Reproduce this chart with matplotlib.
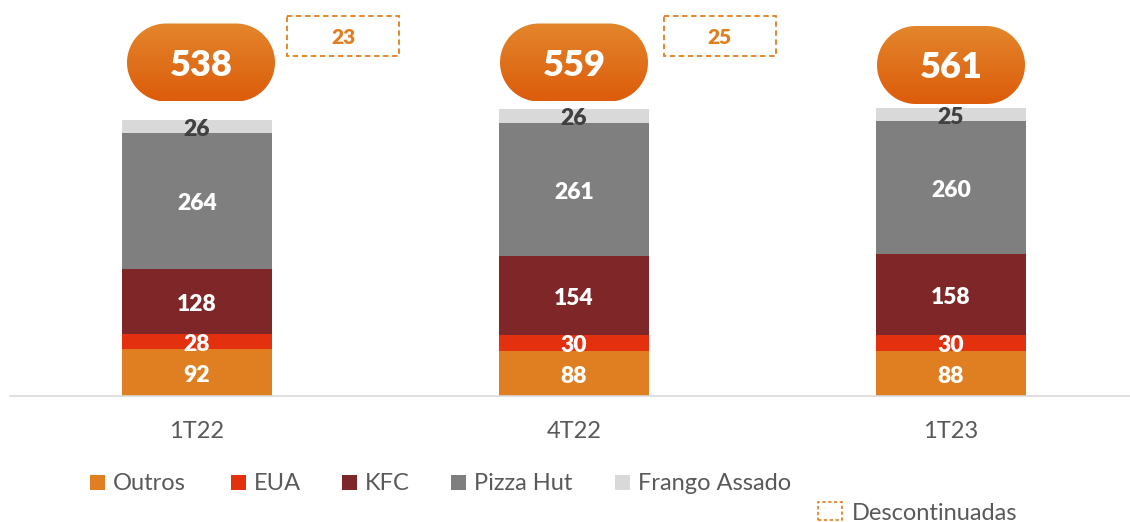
import numpy as np
import matplotlib
matplotlib.use("Agg")
import matplotlib.pyplot as plt
from matplotlib.patches import Polygon, Rectangle, Patch

plt.rcParams['font.family'] = ['Lato', 'DejaVu Sans']

categories = ["1T22", "4T22", "1T23"]
series_names = ["Outros", "EUA", "KFC", "Pizza Hut", "Frango Assado"]
outros = [92, 88, 88]
eua = [28, 30, 30]
kfc = [128, 154, 158]
pizza_hut = [264, 261, 260]
frango_assado = [26, 26, 25]
totals = [538, 559, 561]
descontinuadas = [23, 25, None]

colors = ["#E07F22", "#E3300F", "#7F2628", "#7F7F7F", "#D9D9D9"]
label_colors = ["white", "white", "white", "white", "#404040"]

W, H = 1130, 522
fig = plt.figure(figsize=(W / 100, H / 100), dpi=100)
ax = fig.add_axes([10 / W, (H - 396) / H, 1120 / W, 396 / H])

x = np.arange(len(categories))
ax.set_xlim((10 - 197) / 377, (1130 - 197) / 377)
ax.set_ylim(0, 396 / 0.513)

series = [outros, eua, kfc, pizza_hut, frango_assado]
bottom = np.zeros(len(categories))
for name, vals, c, lc in zip(series_names, series, colors, label_colors):
    vals = np.array(vals, dtype=float)
    ax.bar(x, vals, bottom=bottom, width=0.4, color=c, label=name, zorder=2)
    for xi, v, bt in zip(x, vals, bottom):
        ax.annotate(f"{int(v)}", (xi, bt + v / 2), xytext=(0, -2),
                    textcoords="offset points", ha="center", va="center",
                    color=lc, fontsize=16.5, fontweight="heavy", zorder=3)
    bottom += vals

for s in ["top", "left", "right"]:
    ax.spines[s].set_visible(False)
ax.spines["bottom"].set_color("#D9D9D9")
ax.spines["bottom"].set_linewidth(1.2)
ax.set_yticks([])
ax.set_xticks(x)
ax.set_xticklabels(categories, fontsize=17, color="#595959")
ax.tick_params(axis="x", length=0, pad=18)

# overlay axes in pixel coordinates for badges
ov = fig.add_axes([0, 0, 1, 1], zorder=5)
ov.set_xlim(0, W)
ov.set_ylim(H, 0)
ov.axis("off")
ov.patch.set_alpha(0)

def to_px(xd, yd):
    dx, dy = ax.transData.transform((xd, yd))
    return dx, H - dy

def pill_vertices(cx, cy, pw, ph, n=60):
    r = ph / 2
    a1 = np.linspace(np.pi / 2, 3 * np.pi / 2, n)
    left = np.c_[cx - pw / 2 + r + r * np.cos(a1), cy + r * np.sin(a1)]
    a2 = np.linspace(-np.pi / 2, np.pi / 2, n)
    right = np.c_[cx + pw / 2 - r + r * np.cos(a2), cy + r * np.sin(a2)]
    return np.vstack([left, right])

grad = np.linspace(0, 1, 100).reshape(-1, 1)
top_c = np.array([0xE3, 0x86, 0x2C]) / 255
bot_c = np.array([0xDC, 0x5C, 0x0B]) / 255
img = top_c[None, None, :] * (1 - grad[..., None]) + bot_c[None, None, :] * grad[..., None]

pill_y = [62.5, 62.5, 65]
pill_dx = [4, 0, 0]
for i, (tot, dsc) in enumerate(zip(totals, descontinuadas)):
    bx, _ = to_px(x[i], 0)
    cx = bx + pill_dx[i]
    cy = pill_y[i]
    pw, ph = 148, 78
    patch = Polygon(pill_vertices(cx, cy, pw, ph), closed=True,
                    facecolor="none", edgecolor="none")
    ov.add_patch(patch)
    im = ov.imshow(img, extent=(cx - pw / 2, cx + pw / 2, cy + ph / 2, cy - ph / 2),
                   aspect="auto", zorder=4)
    im.set_clip_path(patch)
    ov.text(cx, cy + 3, f"{tot}", ha="center", va="center", color="white",
            fontsize=26, fontweight="heavy", zorder=6)
    if dsc is not None:
        bx0, bx1 = bx + 90, bx + 202
        r = Rectangle((bx0, 16), bx1 - bx0, 40, facecolor="white",
                      edgecolor="#E07F22", linestyle=(0, (3, 2)), linewidth=1.3, zorder=5)
        ov.add_patch(r)
        ov.text((bx0 + bx1) / 2, 38, f"{dsc}", ha="center", va="center",
                color="#E07F22", fontsize=15, fontweight="heavy", zorder=6)
ov.set_xlim(0, W)
ov.set_ylim(H, 0)

# legend: one entry per legend, positioned like the reference
legend_x = [90, 231, 342, 451, 615]
for name, c, lx in zip(series_names, colors, legend_x):
    lg = fig.legend(handles=[Patch(facecolor=c, edgecolor="none")], labels=[name],
                    loc="center left", bbox_to_anchor=(lx / W, 1 - 484 / H),
                    frameon=False, fontsize=17, handlelength=0.62, handleheight=0.62,
                    handletextpad=0.35, borderaxespad=0, borderpad=0)
    for t in lg.get_texts():
        t.set_color("#595959")

leg2 = fig.legend(handles=[Patch(facecolor="white", edgecolor="#E07F22",
                                 linestyle=(0, (2, 1.5)), linewidth=1.2)],
                  labels=["Descontinuadas"], loc="center left",
                  bbox_to_anchor=(818 / W, 1 - 513 / H), frameon=False,
                  fontsize=17, handlelength=1.0, handleheight=0.8,
                  handletextpad=0.45, borderaxespad=0, borderpad=0)
for t in leg2.get_texts():
    t.set_color("#595959")

fig.savefig("out.png", dpi=100)
